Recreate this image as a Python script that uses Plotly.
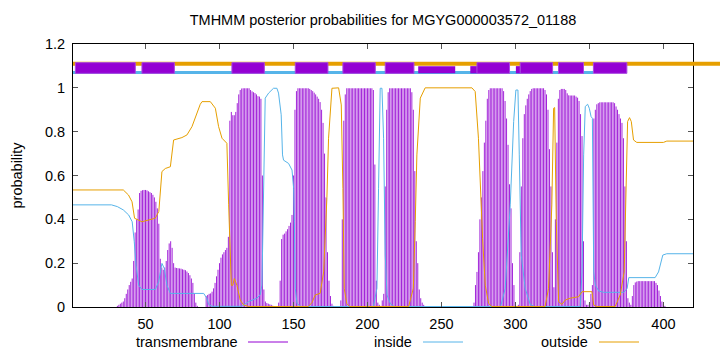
import plotly.graph_objects as go

# ---------------- data ----------------
TITLE = "TMHMM posterior probabilities for MGYG000003572_01188"
SEQ_LEN = 420
residues = list(range(1, SEQ_LEN + 1))

# transmembrane posterior probability per residue (1..420)
tm_prob = (
    [0.0] * 30
    + [0.005, 0.01, 0.015, 0.02, 0.025, 0.04, 0.06, 0.08, 0.1, 0.115, 0.13]
    + [0.21, 0.34, 0.4, 0.445, 0.52, 0.53, 0.533, 0.534, 0.534, 0.532, 0.528, 0.524, 0.52, 0.512, 0.5, 0.48, 0.45, 0.38]
    + [0.22, 0.18, 0.17, 0.18, 0.21, 0.26, 0.29, 0.3, 0.27, 0.2, 0.18, 0.178, 0.177, 0.176, 0.175, 0.172, 0.17, 0.168,
       0.162, 0.155, 0.145, 0.13, 0.11, 0.06, 0.02, 0.005]
    + [0.0] * 5
    + [0.05, 0.055, 0.06, 0.062, 0.07, 0.085, 0.11, 0.14, 0.17, 0.2, 0.225, 0.24, 0.25, 0.26, 0.27, 0.32]
    + [0.85, 0.89, 0.875, 0.875, 0.89, 0.93, 0.97, 0.99, 0.997, 0.998, 0.998, 0.998, 0.998, 0.998, 0.99, 0.984, 0.98,
       0.976, 0.97, 0.962, 0.96, 0.95]
    + [0.6, 0.08, 0.025, 0.018, 0.015, 0.012, 0.01, 0.006, 0.003, 0.0, 0.0, 0.02, 0.12]
    + [0.31, 0.33, 0.335, 0.345, 0.355, 0.37, 0.385, 0.42, 0.6, 0.9, 0.985]
    + [0.998] * 8
    + [0.995, 0.99, 0.985, 0.978, 0.97, 0.96, 0.95, 0.935, 0.9]
    + [0.84, 0.7, 0.5, 0.25, 0.12, 0.05, 0.015, 0.005]
    + [0.0] * 4
    + [0.03, 0.4, 0.85, 0.97] + [0.998] * 18 + [0.99, 0.65, 0.12, 0.02, 0.01]
    + [0.005, 0.03, 0.06, 0.55, 0.9, 0.98] + [0.998] * 15 + [0.98, 0.9, 0.62, 0.3, 0.2, 0.08, 0.04, 0.02, 0.01]
    + [0.0] * 33
    + [0.02, 0.1, 0.16, 0.25, 0.4, 0.5, 0.62, 0.75, 0.85, 0.95, 0.99] + [0.998] * 9
    + [0.985, 0.94, 0.86, 0.74, 0.56, 0.45, 0.2, 0.1, 0.02]
    + [0.005, 0.01, 0.25, 0.55, 0.77, 0.88, 0.92, 0.95, 0.97, 0.985, 0.995] + [0.998] * 8
    + [0.99, 0.97, 0.9, 0.72, 0.55, 0.25, 0.09, 0.4, 0.75, 0.95]
    + [0.99, 0.995, 0.995, 0.995, 0.99, 0.975, 0.966, 0.965, 0.965, 0.965, 0.965, 0.96, 0.955, 0.94, 0.88, 0.78,
       0.3, 0.03, 0.01, 0.01, 0.02, 0.06, 0.1]
    + [0.86, 0.9, 0.925, 0.93] + [0.934] * 10
    + [0.93, 0.915, 0.9, 0.88, 0.86, 0.84, 0.77, 0.55, 0.3, 0.04, 0.02, 0.01, 0.05, 0.1]
    + [0.112, 0.116] + [0.118] * 12 + [0.11, 0.1, 0.075, 0.05, 0.025, 0.012, 0.005]
    + [0.0] * 19
)

# inside posterior probability (read at break points)
inside_pos = [1, 27, 31, 35, 38.6, 41, 42.4, 43.6, 45.4, 47.6, 56.6, 58.9, 61.1, 62.7, 64.5, 66.8, 89.3, 91.5, 92.6,
              95, 115, 119.6, 125.2, 127.5, 128.7, 129.8, 130.9, 133.2, 136.5, 138.8, 139.9, 141.7, 142.6, 143.3,
              146.7, 149, 150.1, 150.6, 151.2, 152.4, 155, 204, 206.4, 207.5, 208.6, 209.8, 210.9, 212, 213.2, 215.4,
              218, 290, 293.1, 296.5, 298.8, 300.3, 301.7, 302.6, 303.9, 306.6, 310, 313, 343.8, 345, 346.1, 347.2,
              348.8, 349.9, 351.1, 352, 352.9, 354, 356.3, 359.7, 373.2, 375.5, 376.6, 394.4, 396.7, 399.6, 402.3, 420]
inside_prob = [0.466, 0.466, 0.458, 0.443, 0.42, 0.389, 0.298, 0.19, 0.099, 0.08, 0.08, 0.115, 0.199, 0.176, 0.099,
               0.062, 0.062, 0.04, 0.012, 0.003, 0.003, 0.024, 0.04, 0.055, 0.1, 0.542, 0.953, 0.976, 0.998, 0.998,
               0.976, 0.877, 0.694, 0.67, 0.655, 0.625, 0.542, 0.39, 0.085, 0.016, 0.002, 0.002, 0.085, 0.542, 0.998,
               0.998, 0.77, 0.237, 0.055, 0.016, 0.002, 0.002, 0.085, 0.466, 0.846, 0.99, 0.99, 0.694, 0.237, 0.085,
               0.012, 0.002, 0.002, 0.16, 0.694, 0.915, 0.925, 0.907, 0.869, 0.861, 0.16, 0.1, 0.073, 0.067, 0.067,
               0.085, 0.134, 0.134, 0.16, 0.237, 0.243, 0.243]

# outside posterior probability (read at break points)
outside_pos = [1, 35, 38.5, 40.9, 42.6, 47.6, 56.6, 59, 61.1, 63.4, 66.8, 69, 74.6, 78, 81.4, 83.7, 87, 88.2, 93.8,
               97.2, 99.4, 101.7, 105, 106.2, 108, 109, 110, 111.8, 114, 116.3, 120, 160, 162.5, 164.7, 168, 170.4,
               171.5, 172.6, 173.7, 176, 180.5, 182.3, 183.4, 184.3, 186, 188, 227.8, 231, 232.3, 233.4, 235.7, 239,
               270.6, 272.8, 275, 276.2, 277.8, 279.6, 281.9, 284, 320, 322.4, 324.6, 325.8, 326.5, 327.6, 329.2,
               331.4, 333.7, 337, 342.7, 345, 351.7, 352.9, 355, 367.4, 370.8, 373.5, 374.9, 375.8, 377.1, 378.3,
               379.8, 382, 400, 402.3, 420]
outside_prob = [0.534, 0.534, 0.511, 0.48, 0.405, 0.389, 0.405, 0.436, 0.618, 0.632, 0.64, 0.762, 0.773, 0.785,
                0.823, 0.868, 0.925, 0.937, 0.937, 0.907, 0.823, 0.77, 0.747, 0.466, 0.099, 0.099, 0.13, 0.099,
                0.032, 0.009, 0.002, 0.002, 0.02, 0.055, 0.062, 0.16, 0.3, 0.5, 0.77, 0.998, 1.0, 0.922, 0.54,
                0.085, 0.016, 0.002, 0.002, 0.085, 0.39, 0.694, 0.953, 1.0, 1.0, 0.983, 0.77, 0.541, 0.313, 0.099,
                0.016, 0.002, 0.002, 0.085, 0.466, 0.907, 0.91, 0.39, 0.024, 0.012, 0.032, 0.04, 0.047, 0.07, 0.07,
                0.009, 0.002, 0.002, 0.055, 0.16, 0.541, 0.846, 0.864, 0.846, 0.762, 0.751, 0.751, 0.757, 0.757]

# predicted topology header: TM helix boxes (start, end residue)
tm_box_start = [2.6, 47.6, 108.4, 151.2, 183.4, 212.0, 234.3, 269.5, 274.0, 300.3, 303.2, 329.1, 352.7]
tm_box_end = [43.1, 69.5, 130.3, 173.3, 205.3, 231.4, 259.3, 274.0, 296.0, 303.2, 325.1, 346.0, 375.3]
low_boxes = [6, 7, 9]          # indices of boxes drawn beneath the outside bar
inside_bar_end = 352.7         # inside header line spans residue 1 .. this

# ---------------- style ----------------
C_TM, C_IN, C_OUT = "#9400d3", "#56b4e9", "#e69f00"
FONT = "Liberation Sans, Arial, sans-serif"
W, H = 720, 352
ML, MR, MT, MB = 73, 27, 44, 45
YMAX = 1.2
LEVEL_OUT, LEVEL_IN = 1.11, 1.07
BOX_LO, BOX_HI, BOX_HI_LOW = 1.066, 1.115, 1.099

# impulses (gnuplot style): one vertical segment per residue
imp_x, imp_y = [], []
for r, v in zip(residues, tm_prob):
    imp_x += [r, r, None]
    imp_y += [0, v, None]

fig = go.Figure()
fig.add_trace(go.Scatter(x=imp_x, y=imp_y, mode="lines", line=dict(color=C_TM, width=1),
                         opacity=0.85, name="transmembrane", showlegend=False, connectgaps=False))
fig.add_trace(go.Scatter(x=inside_pos, y=inside_prob, mode="lines", line=dict(color=C_IN, width=1),
                         name="inside", showlegend=False))
fig.add_trace(go.Scatter(x=outside_pos, y=outside_prob, mode="lines", line=dict(color=C_OUT, width=1),
                         name="outside", showlegend=False))

shapes = []
shapes.append(dict(type="line", xref="x", yref="y", x0=residues[0], x1=inside_bar_end, y0=LEVEL_IN, y1=LEVEL_IN,
                   line=dict(color=C_IN, width=3)))
for i in low_boxes:
    shapes.append(dict(type="rect", xref="x", yref="y", x0=tm_box_start[i], x1=tm_box_end[i], y0=BOX_LO,
                       y1=BOX_HI_LOW, fillcolor=C_TM, line=dict(width=0)))
plot_w = W - ML - MR
shapes.append(dict(type="line", xref="paper", yref="paper", x0=0, x1=(W - ML) / plot_w,
                   y0=LEVEL_OUT / YMAX, y1=LEVEL_OUT / YMAX, line=dict(color=C_OUT, width=4)))
for i in range(len(tm_box_start)):
    if i in low_boxes:
        continue
    shapes.append(dict(type="rect", xref="x", yref="y", x0=tm_box_start[i], x1=tm_box_end[i], y0=BOX_LO,
                       y1=BOX_HI, fillcolor=C_TM, line=dict(width=1, color="#a848e0")))

# legend (gnuplot style: text then sample)
plot_h = H - MT - MB
leg_y = -(342 - (H - MB)) / plot_h
legend_items = [("transmembrane", C_TM, 240, 248, 288),
                ("inside", C_IN, 414, 423, 463),
                ("outside", C_OUT, 590, 599, 639)]
annotations = []
for label, col, tx, l0, l1 in legend_items:
    annotations.append(dict(text=label, xref="paper", yref="paper", x=(tx - ML) / plot_w, y=leg_y,
                            xanchor="right", yanchor="middle", showarrow=False,
                            font=dict(family=FONT, size=14.5, color="black")))
    shapes.append(dict(type="line", xref="paper", yref="paper", x0=(l0 - ML) / plot_w, x1=(l1 - ML) / plot_w,
                       y0=leg_y, y1=leg_y, line=dict(color=col, width=1)))

annotations.append(dict(text="probability", xref="paper", yref="paper", x=(16 - ML) / plot_w, y=0.5,
                        textangle=-90, xanchor="center", yanchor="middle", showarrow=False,
                        font=dict(family=FONT, size=14.5, color="black")))

fig.update_layout(
    width=W, height=H, margin=dict(l=ML, r=MR, t=MT, b=MB),
    paper_bgcolor="white", plot_bgcolor="white",
    title=dict(text=TITLE, x=0.5, xref="paper", xanchor="center", y=1 - 20 / H, yref="container",
               yanchor="middle", font=dict(family=FONT, size=14.5, color="black")),
    font=dict(family=FONT, size=14.5, color="black"),
    shapes=shapes, annotations=annotations, showlegend=False,
    xaxis=dict(range=[1, SEQ_LEN], tickvals=[50, 100, 150, 200, 250, 300, 350, 400], ticks="inside",
               ticklen=5, tickcolor="#555", showline=True, linecolor="black", linewidth=1, mirror="ticks",
               showgrid=False, zeroline=False, ticklabelstandoff=4),
    yaxis=dict(range=[0, YMAX], tickvals=[0, 0.2, 0.4, 0.6, 0.8, 1.0, 1.2],
               ticktext=["0", "0.2", "0.4", "0.6", "0.8", "1", "1.2"], ticks="inside", ticklen=5,
               tickcolor="#555", showline=True, linecolor="black", linewidth=1, mirror="ticks",
               showgrid=False, zeroline=False, ticklabelstandoff=4),
)

fig.write_html("out.html")
